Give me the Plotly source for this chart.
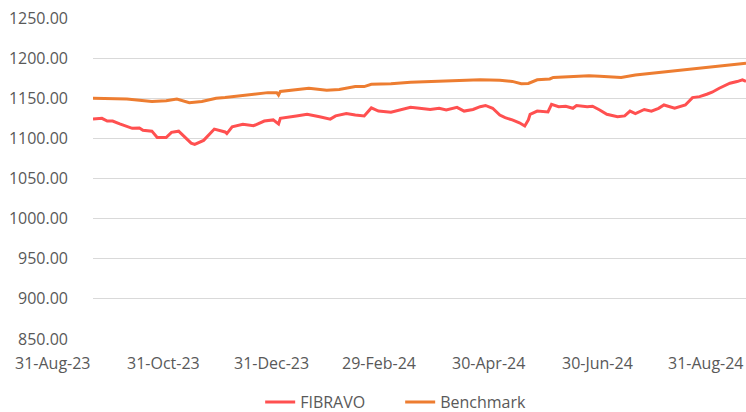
import plotly.graph_objects as go

# FIBRAVO series
fib_dates = [
    "2023-08-31", "2023-09-05", "2023-09-08", "2023-09-11", "2023-09-15", "2023-09-22",
    "2023-09-26", "2023-09-28", "2023-10-03", "2023-10-06", "2023-10-11", "2023-10-14",
    "2023-10-18", "2023-10-20", "2023-10-25", "2023-10-27", "2023-11-01", "2023-11-07",
    "2023-11-13", "2023-11-14", "2023-11-17", "2023-11-23", "2023-11-29", "2023-12-05",
    "2023-12-10", "2023-12-13", "2023-12-14", "2023-12-23", "2023-12-29", "2024-01-05",
    "2024-01-11", "2024-01-14", "2024-01-20", "2024-01-25", "2024-01-30", "2024-02-03",
    "2024-02-07", "2024-02-14", "2024-02-20", "2024-02-25", "2024-03-01", "2024-03-07",
    "2024-03-12", "2024-03-16", "2024-03-22", "2024-03-26", "2024-03-31", "2024-04-04",
    "2024-04-07", "2024-04-11", "2024-04-15", "2024-04-18", "2024-04-22", "2024-04-26",
    "2024-04-29", "2024-05-01", "2024-05-02", "2024-05-06", "2024-05-12", "2024-05-14",
    "2024-05-18", "2024-05-22", "2024-05-26", "2024-05-28", "2024-06-03", "2024-06-06",
    "2024-06-10", "2024-06-14", "2024-06-20", "2024-06-24", "2024-06-27", "2024-06-30",
    "2024-07-05", "2024-07-09", "2024-07-13", "2024-07-16", "2024-07-22", "2024-07-28",
    "2024-08-01", "2024-08-05", "2024-08-09", "2024-08-12", "2024-08-16", "2024-08-22",
    "2024-08-26", "2024-08-29", "2024-08-31",
]
fib_values = [
    1124, 1125, 1121.6, 1121.6, 1118, 1112.5,
    1113, 1110, 1109, 1101, 1101, 1107.5,
    1109, 1105, 1094, 1092.5, 1097.5, 1111.6,
    1108, 1106, 1114.5, 1117.5, 1115.8, 1121.6,
    1123, 1118, 1125, 1128, 1130, 1127,
    1124, 1128, 1131, 1129, 1128, 1138,
    1134, 1132.5, 1135.4, 1138.7, 1137.5, 1136,
    1137.5, 1135.4, 1138.7, 1134, 1136, 1139.5,
    1141, 1137.5, 1129, 1125.8, 1123, 1119.5,
    1115.4, 1123, 1130, 1134, 1133, 1142.5,
    1139.5, 1140, 1137.5, 1140.8, 1139.5, 1140,
    1135.4, 1130, 1127, 1128, 1134, 1131,
    1136, 1134, 1137.5, 1141.6, 1137.5, 1141.6,
    1150.8, 1152, 1155, 1157.5, 1162.5, 1168.7,
    1170.8, 1173, 1171,
]

# Benchmark series
bm_dates = [
    "2023-08-31", "2023-09-19", "2023-10-03", "2023-10-11", "2023-10-17", "2023-10-24",
    "2023-10-31", "2023-11-08", "2023-11-13", "2023-11-21", "2023-11-29", "2023-12-07",
    "2023-12-12", "2023-12-13", "2023-12-14", "2023-12-23", "2023-12-30", "2024-01-09",
    "2024-01-16", "2024-01-25", "2024-01-30", "2024-02-03", "2024-02-14", "2024-02-25",
    "2024-03-07", "2024-03-18", "2024-03-29", "2024-04-04", "2024-04-15", "2024-04-22",
    "2024-04-27", "2024-05-01", "2024-05-06", "2024-05-13", "2024-05-15", "2024-05-26",
    "2024-06-04", "2024-06-10", "2024-06-17", "2024-06-22", "2024-06-30", "2024-07-15",
    "2024-07-30", "2024-08-05", "2024-08-16", "2024-08-31",
]
bm_values = [
    1150, 1149, 1146, 1147, 1149, 1144.5,
    1146, 1150, 1151, 1153, 1154.6, 1157,
    1157, 1154, 1158.5, 1160.4, 1162.5, 1160,
    1161, 1164.5, 1164.5, 1167.5, 1168, 1170,
    1171, 1172, 1172.7, 1173, 1172.3, 1171,
    1168, 1168.5, 1173, 1174, 1176, 1177,
    1178, 1177.5, 1176, 1175.8, 1179, 1182.5,
    1185.4, 1187.5, 1189.5, 1193.7,
]

x_tick_vals = ["2023-08-31", "2023-10-31", "2023-12-31", "2024-02-29",
               "2024-04-30", "2024-06-30", "2024-08-31"]
x_tick_text = ["31-Aug-23", "31-Oct-23", "31-Dec-23", "29-Feb-24",
               "30-Apr-24", "30-Jun-24", "31-Aug-24"]
y_tick_vals = [850, 900, 950, 1000, 1050, 1100, 1150, 1200, 1250]

FONT = "Open Sans"
TXT = "#595959"

fig = go.Figure()
fig.add_trace(go.Scatter(x=fib_dates, y=fib_values, name="FIBRAVO", mode="lines",
                         line=dict(color="#FF5050", width=3)))
fig.add_trace(go.Scatter(x=bm_dates, y=bm_values, name="Benchmark", mode="lines",
                         line=dict(color="#ED7D31", width=3)))

# x tick labels: right-aligned at their dates (as in the reference)
for xv, xt in zip(x_tick_vals, x_tick_text):
    fig.add_annotation(x=xv, xref="x", y=0, yref="paper", text=xt,
                       showarrow=False, xanchor="right", yanchor="middle",
                       yshift=-24, font=dict(size=16, color=TXT, family=FONT))

fig.update_layout(
    width=746, height=412,
    margin=dict(l=93, r=0, t=18, b=73),
    paper_bgcolor="white", plot_bgcolor="white",
    font=dict(family=FONT, color=TXT, size=16),
    showlegend=True,
    legend=dict(orientation="h", x=0.256, xanchor="left", xref="paper",
                y=0.0243, yanchor="middle", yref="container",
                entrywidth=95, entrywidthmode="pixels",
                font=dict(size=16, color=TXT, family=FONT)),
    xaxis=dict(type="date", range=["2023-08-31", "2024-08-31"],
               tickvals=x_tick_vals, showticklabels=False,
               showgrid=False, zeroline=False, showline=False, automargin=False,
               ticks=""),
    yaxis=dict(range=[850, 1250], tickvals=y_tick_vals, tickformat=".2f",
               showgrid=True, gridcolor="#D9D9D9", gridwidth=1.3, automargin=False,
               zeroline=False, showline=False, ticks="", ticklabelstandoff=24,
               tickfont=dict(size=16, color=TXT, family=FONT)),
)

fig.write_html("out.html", config={"displayModeBar": False},
               post_script="document.body.style.margin='0';document.body.style.padding='0';")
